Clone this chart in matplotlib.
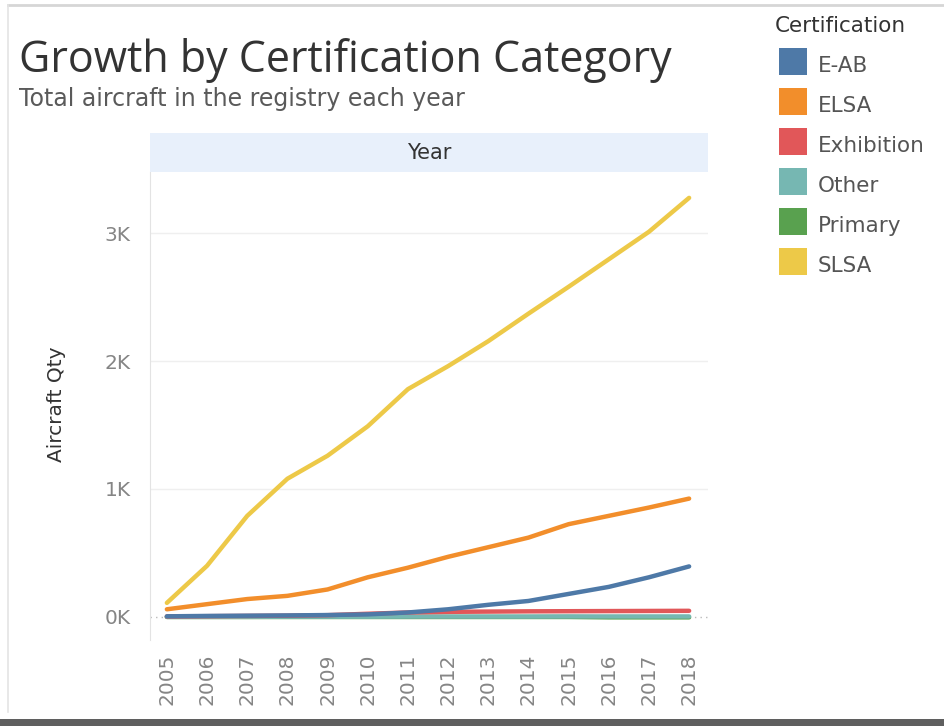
import numpy as np
import matplotlib
matplotlib.use('Agg')
import matplotlib.pyplot as plt
from matplotlib.patches import Rectangle
from matplotlib.lines import Line2D

plt.rcParams['font.family'] = ['DejaVu Sans']

YEARS = list(range(2005, 2019))
CATEGORIES = ['E-AB', 'ELSA', 'Exhibition', 'Other', 'Primary', 'SLSA']
COLORS = ['#4e79a7', '#f28e2b', '#e15759', '#76b7b2', '#59a14f', '#edc948']

E_AB = [5, 8, 10, 12, 15, 20, 35, 60, 95, 125, 180, 235, 310, 395]
ELSA = [60, 100, 140, 165, 215, 310, 385, 470, 545, 620, 725, 790, 855, 925]
EXHIBITION = [4, 6, 8, 10, 14, 25, 35, 40, 42, 44, 45, 46, 47, 48]
OTHER = [1, 1, 1, 2, 2, 2, 3, 3, 3, 3, 4, 4, 4, 4]
PRIMARY = [0, 0, 0, 0, 0, 0, 0, 0, 0, 0, 0, -3, -3, -3]
SLSA = [110, 400, 790, 1080, 1260, 1490, 1780, 1960, 2155, 2370, 2580, 2795, 3010, 3275]

SERIES = {'E-AB': E_AB, 'ELSA': ELSA, 'Exhibition': EXHIBITION,
          'Other': OTHER, 'Primary': PRIMARY, 'SLSA': SLSA}
Y_TICKS = [0, 1000, 2000, 3000]
Y_TICKLABELS = ['0K', '1K', '2K', '3K']

W, H = 944, 726
fig = plt.figure(figsize=(W / 100, H / 100), dpi=100)


def fx(px):
    return px / W


def fy(py):
    return 1 - py / H


# dashboard frame: light top/left rule, dark strip at the bottom
fig.lines.append(Line2D([fx(8), 1], [fy(5), fy(5)], transform=fig.transFigure,
                        color='#d6d6d6', linewidth=2))
fig.lines.append(Line2D([fx(8), fx(8)], [fy(5), fy(712)], transform=fig.transFigure,
                        color='#e4e4e4', linewidth=1.2))
fig.patches.append(Rectangle((0, 0), 1, fy(719), transform=fig.transFigure,
                             facecolor='#5f5f5f', edgecolor='none'))

fig.text(fx(19), fy(72), 'Growth by Certification Category', fontsize=31,
         family=['Open Sans', 'DejaVu Sans'], color='#333333',
         va='baseline', ha='left')
fig.text(fx(19), fy(106), 'Total aircraft in the registry each year', fontsize=17,
         color='#5a5a5a', va='baseline', ha='left')

# header band
fig.patches.append(Rectangle((fx(150), fy(172)), fx(708) - fx(150), fy(133) - fy(172),
                             transform=fig.transFigure, facecolor='#e8f0fb',
                             edgecolor='none'))
fig.text((fx(150) + fx(708)) / 2, fy(153), 'Year', fontsize=15, color='#333333',
         ha='center', va='center')

ax = fig.add_axes([fx(150), fy(640), fx(708) - fx(150), fy(172) - fy(640)])
ax.set_xlim(2004.58, 2018.47)
ax.set_ylim(-180, 3477)

draw_order = ['Primary', 'Other', 'SLSA', 'ELSA', 'Exhibition', 'E-AB']
for name in draw_order:
    c = COLORS[CATEGORIES.index(name)]
    ax.plot(YEARS, SERIES[name], color=c, linewidth=3.2, solid_capstyle='round',
            solid_joinstyle='round', zorder=3)

for t in Y_TICKS[1:]:
    ax.axhline(t, color='#efefef', linewidth=1, zorder=1)
ax.axhline(0, color='#bbbbbb', linewidth=1, linestyle=(0, (1, 3)), zorder=1)

for s in ['top', 'right', 'bottom']:
    ax.spines[s].set_visible(False)
ax.spines['left'].set_color('#e3e3e3')
ax.set_yticks(Y_TICKS)
ax.set_yticklabels(Y_TICKLABELS)
ax.set_xticks(YEARS)
ax.set_xticklabels([str(y) for y in YEARS], rotation=90)
ax.tick_params(axis='both', length=0, colors='#858585', labelsize=14.5)
ax.tick_params(axis='y', pad=14)
ax.tick_params(axis='x', pad=10)
fig.text(fx(57), fy(404), 'Aircraft Qty', fontsize=14.5, color='#333333',
         rotation=90, ha='center', va='center')

# legend
fig.text(fx(775), fy(32), 'Certification', fontsize=15.5, color='#333333',
         ha='left', va='baseline')
for i, (name, c) in enumerate(zip(CATEGORIES, COLORS)):
    top = 48 + 40 * i
    fig.patches.append(Rectangle((fx(779), fy(top + 27)), fx(28), fy(0) - fy(27),
                                 transform=fig.transFigure, facecolor=c,
                                 edgecolor='none'))
    fig.text(fx(818), fy(top + 24), name, fontsize=15.5, color='#555555',
             ha='left', va='baseline')

fig.savefig('out.png', dpi=100)
